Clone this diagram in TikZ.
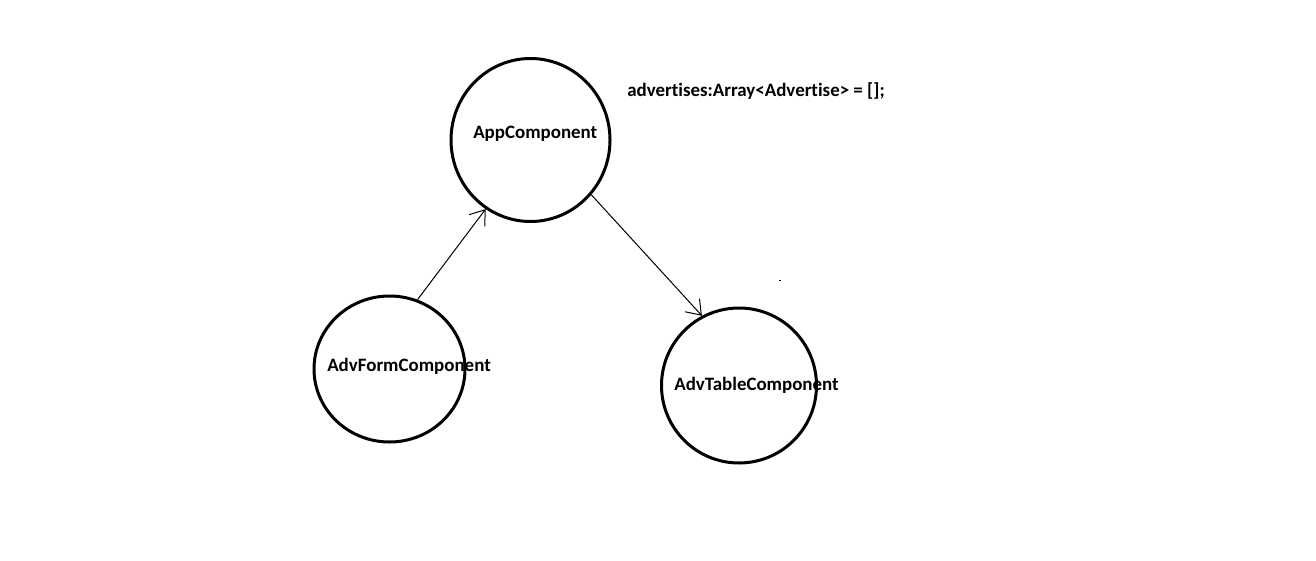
\documentclass[tikz,border=0pt]{standalone}
\usepackage{fontspec}
\setmainfont{Carlito}[Ligatures={NoCommon}]
\usetikzlibrary{shapes.geometric,arrows.meta}
\begin{document}
\begin{tikzpicture}[x=0.75pt,y=-0.75pt,
  comp/.style={draw=black,line width=2.25pt,ellipse,inner sep=0pt},
  lbl/.style={anchor=base west,inner sep=0pt,font=\fontsize{14.2pt}{16pt}\selectfont\bfseries},
  link/.style={draw=black,line width=0.75pt,-{Straight Barb[angle=72:12.5pt,line width=0.75pt]}}]
\useasboundingbox (0,0) rectangle (1316,560);
\fill[white] (0,0) rectangle (1316,560);
\node[comp,minimum width=159*0.75pt,minimum height=163*0.75pt] (app) at (530.5,140) {};
\node[comp,minimum width=151*0.75pt,minimum height=146*0.75pt] (form) at (389.5,369) {};
\node[comp,minimum width=155*0.75pt,minimum height=155*0.75pt] (table) at (739,385.5) {};
\node[lbl] (applbl) at (473,138) {AppComponent};
\node[lbl] (formlbl) at (327,371) {AdvFormComponent};
\node[lbl] (tablelbl) at (674,390.5) {AdvTableComponent};
\node[lbl] (note) at (627,96.5) {advertises:Array<Advertise> = [];};
\draw[link] (form.68) -- (app.237);
\draw[link] (app.318) -- (table.118);
\fill[black] (779,279.5) rectangle (781,280.5);
\end{tikzpicture}
\end{document}
